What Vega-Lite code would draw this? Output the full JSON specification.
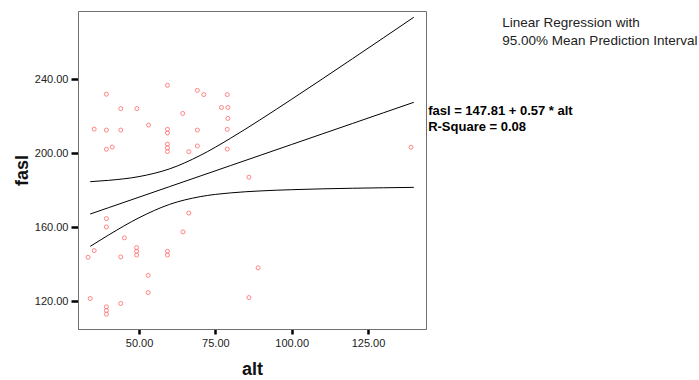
{
  "$schema": "https://vega.github.io/schema/vega-lite/v6.json",
  "width": 348,
  "height": 318,
  "autosize": {"type": "none"},
  "padding": {"left": 78, "top": 11, "right": 273, "bottom": 51},
  "background": "white",
  "config": {
    "font": "Liberation Sans",
    "view": {"stroke": "#707070", "strokeWidth": 1},
    "axis": {"grid": false, "domainColor": "#707070", "tickColor": "black", "labelColor": "#222222", "labelFont": "Liberation Sans", "labelFontSize": 11, "titleFont": "Liberation Sans", "titleFontWeight": "bold", "titleFontSize": 18, "titleColor": "#111111"}
  },
  "datasets": {
    "points": [
      {"alt": 39.3, "fasl": 232.0}, {"alt": 44.0, "fasl": 224.2}, {"alt": 49.3, "fasl": 224.2},
      {"alt": 53.1, "fasl": 215.3}, {"alt": 35.3, "fasl": 213.1}, {"alt": 39.3, "fasl": 212.6},
      {"alt": 44.0, "fasl": 212.6}, {"alt": 39.3, "fasl": 202.2}, {"alt": 41.2, "fasl": 203.4},
      {"alt": 59.3, "fasl": 236.8}, {"alt": 69.1, "fasl": 234.1}, {"alt": 71.2, "fasl": 231.8},
      {"alt": 78.9, "fasl": 231.8}, {"alt": 64.3, "fasl": 221.6}, {"alt": 77.0, "fasl": 224.8},
      {"alt": 79.1, "fasl": 224.8}, {"alt": 79.1, "fasl": 218.9}, {"alt": 59.3, "fasl": 213.0},
      {"alt": 59.3, "fasl": 211.0}, {"alt": 69.1, "fasl": 212.6}, {"alt": 78.9, "fasl": 213.0},
      {"alt": 59.3, "fasl": 205.0}, {"alt": 59.3, "fasl": 203.0}, {"alt": 59.3, "fasl": 201.0},
      {"alt": 66.3, "fasl": 200.9}, {"alt": 69.1, "fasl": 204.0}, {"alt": 78.9, "fasl": 202.3},
      {"alt": 39.3, "fasl": 164.7}, {"alt": 39.3, "fasl": 160.2}, {"alt": 45.2, "fasl": 154.3},
      {"alt": 35.3, "fasl": 147.4}, {"alt": 33.3, "fasl": 143.8}, {"alt": 44.0, "fasl": 144.0},
      {"alt": 49.2, "fasl": 149.0}, {"alt": 49.2, "fasl": 147.0}, {"alt": 49.2, "fasl": 145.0},
      {"alt": 53.0, "fasl": 134.0}, {"alt": 53.0, "fasl": 124.7}, {"alt": 34.0, "fasl": 121.5},
      {"alt": 44.0, "fasl": 118.8}, {"alt": 39.3, "fasl": 117.0}, {"alt": 39.3, "fasl": 115.0},
      {"alt": 39.3, "fasl": 113.0}, {"alt": 66.3, "fasl": 167.7}, {"alt": 64.4, "fasl": 157.5},
      {"alt": 59.3, "fasl": 147.0}, {"alt": 59.3, "fasl": 145.0}, {"alt": 86.0, "fasl": 187.1},
      {"alt": 89.0, "fasl": 138.1}, {"alt": 86.0, "fasl": 122.0}, {"alt": 139.1, "fasl": 203.3}
    ],
    "curves": [
      {"band": "fit", "alt": 34, "fasl": 167.19}, {"band": "fit", "alt": 40, "fasl": 170.61},
      {"band": "fit", "alt": 50, "fasl": 176.31}, {"band": "fit", "alt": 60, "fasl": 182.01},
      {"band": "fit", "alt": 70, "fasl": 187.71}, {"band": "fit", "alt": 80, "fasl": 193.41},
      {"band": "fit", "alt": 90, "fasl": 199.11}, {"band": "fit", "alt": 100, "fasl": 204.81},
      {"band": "fit", "alt": 110, "fasl": 210.51}, {"band": "fit", "alt": 120, "fasl": 216.21},
      {"band": "fit", "alt": 130, "fasl": 221.91}, {"band": "fit", "alt": 140, "fasl": 227.61},
      {"band": "upper", "alt": 34, "fasl": 184.68}, {"band": "upper", "alt": 40, "fasl": 185.40},
      {"band": "upper", "alt": 50, "fasl": 187.44}, {"band": "upper", "alt": 60, "fasl": 191.61},
      {"band": "upper", "alt": 70, "fasl": 198.84}, {"band": "upper", "alt": 80, "fasl": 208.20},
      {"band": "upper", "alt": 90, "fasl": 218.52}, {"band": "upper", "alt": 100, "fasl": 229.27},
      {"band": "upper", "alt": 110, "fasl": 240.22}, {"band": "upper", "alt": 120, "fasl": 251.29},
      {"band": "upper", "alt": 130, "fasl": 262.43}, {"band": "upper", "alt": 140, "fasl": 273.61},
      {"band": "lower", "alt": 34, "fasl": 149.70}, {"band": "lower", "alt": 40, "fasl": 155.82},
      {"band": "lower", "alt": 50, "fasl": 165.18}, {"band": "lower", "alt": 60, "fasl": 172.41},
      {"band": "lower", "alt": 70, "fasl": 176.58}, {"band": "lower", "alt": 80, "fasl": 178.62},
      {"band": "lower", "alt": 90, "fasl": 179.70}, {"band": "lower", "alt": 100, "fasl": 180.35},
      {"band": "lower", "alt": 110, "fasl": 180.80}, {"band": "lower", "alt": 120, "fasl": 181.13},
      {"band": "lower", "alt": 130, "fasl": 181.39}, {"band": "lower", "alt": 140, "fasl": 181.61}
    ],
    "notes": [
      {"label": "fasl = 147.81 + 0.57 * alt", "alt": 144.7, "fasl": 222.8, "kind": "eq"},
      {"label": "R-Square = 0.08", "alt": 144.7, "fasl": 214.0, "kind": "eq"},
      {"label": "Linear Regression with", "alt": 169.0, "fasl": 270.7, "kind": "legend"},
      {"label": "95.00% Mean Prediction Interval", "alt": 169.0, "fasl": 261.0, "kind": "legend"}
    ]
  },
  "layer": [
    {
      "data": {"name": "points"},
      "mark": {"type": "point", "shape": "circle", "filled": false, "stroke": "#ff6f6f", "strokeWidth": 1, "size": 16, "opacity": 0.85},
      "encoding": {
        "x": {"field": "alt", "type": "quantitative", "scale": {"domain": [30, 144], "nice": false, "zero": false},
              "axis": {"title": "alt", "values": [50, 75, 100, 125], "format": ".2f", "tickSize": 5, "tickWidth": 2.5, "labelPadding": 3, "titlePadding": 12}},
        "y": {"field": "fasl", "type": "quantitative", "scale": {"domain": [105, 277], "nice": false, "zero": false},
              "axis": {"title": "fasl", "values": [120, 160, 200, 240], "format": ".2f", "tickSize": 7, "tickWidth": 2.5, "labelPadding": 3, "titlePadding": 3}}
      }
    },
    {
      "data": {"name": "curves"},
      "mark": {"type": "line", "color": "black", "strokeWidth": 1, "interpolate": "monotone"},
      "encoding": {
        "x": {"field": "alt", "type": "quantitative"},
        "y": {"field": "fasl", "type": "quantitative"},
        "detail": {"field": "band"}
      }
    },
    {
      "data": {"name": "notes"},
      "transform": [{"filter": "datum.kind === 'eq'"}],
      "mark": {"type": "text", "align": "left", "baseline": "middle", "fontWeight": "bold", "fontSize": 13, "clip": false, "color": "black"},
      "encoding": {"x": {"field": "alt", "type": "quantitative"}, "y": {"field": "fasl", "type": "quantitative"}, "text": {"field": "label"}}
    },
    {
      "data": {"name": "notes"},
      "transform": [{"filter": "datum.kind === 'legend'"}],
      "mark": {"type": "text", "align": "left", "baseline": "middle", "fontSize": 13.5, "clip": false, "color": "#222222"},
      "encoding": {"x": {"field": "alt", "type": "quantitative"}, "y": {"field": "fasl", "type": "quantitative"}, "text": {"field": "label"}}
    }
  ]
}
